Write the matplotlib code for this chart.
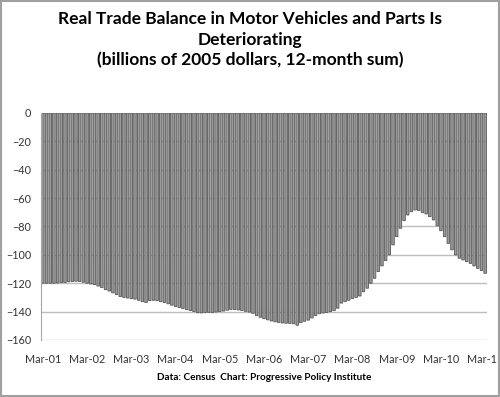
import matplotlib.pyplot as plt
from matplotlib.patches import Rectangle

# 12-month sum, billions of 2005 dollars, monthly Mar-01 .. Mar-11
balance = [
    -120, -120, -120, -120, -119.8, -119.5, -119.5, -119, -118.8, -118.6, -118.8, -119.3,
    -120, -120.5, -121, -122, -123, -124.5, -125.5, -126.8, -128, -129.4, -130, -130.4,
    -130.8, -131.2, -132, -133, -133.6, -132.2, -132, -132.3, -133, -133.6, -134.5, -135.5,
    -136.5, -137.2, -137.8, -138.6, -139.3, -140, -140.8, -140.9, -140.6, -140.5, -140.6, -140.3,
    -140, -139.6, -139, -138.4, -138.5, -138.8, -139.2, -139.8, -140.3, -141.2, -142.8, -144,
    -145, -145.8, -146.6, -147.2, -147.6, -148, -148.2, -148.3, -148.6, -149.6, -147.8, -146.8,
    -146, -144.5, -142.8, -141.5, -141, -140.6, -140, -139.3, -137.6, -134, -133, -132,
    -130.8, -130, -129, -126, -123.5, -120, -116.5, -111.8, -107.8, -104, -100, -93,
    -87.2, -81.3, -75.9, -71.9, -69.6, -68.4, -68.8, -70.3, -71.2, -73.1, -75.4, -79.6,
    -83, -87.2, -91.9, -96.5, -100, -102.4, -103.6, -104.8, -106, -107.8, -109.5, -111,
    -113,
]
tick_labels = ["Mar-01", "Mar-02", "Mar-03", "Mar-04", "Mar-05", "Mar-06",
               "Mar-07", "Mar-08", "Mar-09", "Mar-10", "Mar-11"]

plt.rcParams['font.family'] = ['Lato', 'DejaVu Sans']

fig = plt.figure(figsize=(5, 3.97), dpi=100)
ax = fig.add_axes([0.082, 0.1436, 0.892, 0.572])

months = list(range(len(balance)))
ax.bar(months, balance, width=0.68, color='#9a9a9a', edgecolor='#555555',
       linewidth=0.6, zorder=2, snap=False)

ax.set_xlim(-0.5, len(balance) - 0.5)
ax.set_ylim(-160, 0)
ax.set_yticks(range(-160, 1, 20))
ax.set_xticks(range(0, len(balance), 12))
ax.set_xticklabels(tick_labels)
ax.tick_params(axis='both', length=0, labelsize=7.8, colors='#333333')
ax.tick_params(axis='x', pad=10)
ax.tick_params(axis='y', pad=7)

ax.yaxis.grid(True, color='#bdbdbd', linewidth=1, zorder=0)
ax.set_axisbelow(True)
for side in ['top', 'right', 'bottom']:
    ax.spines[side].set_visible(False)
ax.spines['left'].set_color('#a6a6a6')

fig.text(0.5, 0.972, "Real Trade Balance in Motor Vehicles and Parts Is\nDeteriorating\n(billions of 2005 dollars, 12-month sum)",
         ha='center', va='top', fontsize=12.5, fontweight='bold', linespacing=1.35)
fig.text(0.528, 0.05, "Data: Census  Chart: Progressive Policy Institute",
         ha='center', va='center', fontsize=7.2, fontweight='bold')

fig.patches.append(Rectangle((0.002, 0.002), 0.996, 0.996, transform=fig.transFigure,
                             fill=False, edgecolor='#a0a0a0', linewidth=1.5))

fig.savefig('out.png', dpi=100)
